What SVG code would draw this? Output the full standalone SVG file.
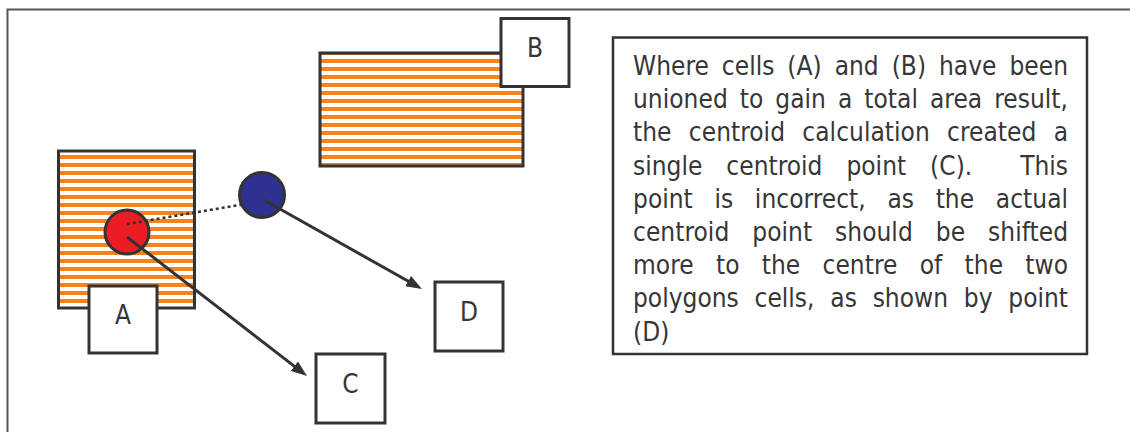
<svg xmlns="http://www.w3.org/2000/svg" width="1130" height="432" viewBox="0 0 1130 432">
  <style>
    .frame { fill: none; stroke: #555555; stroke-width: 2; }
    .cell { fill: url(#stripes); stroke: #333333; stroke-width: 3; }
    .box { fill: #ffffff; stroke: #333333; stroke-width: 3; }
    .note { fill: #ffffff; stroke: #333333; stroke-width: 2.5; }
    .label { font-family: "DejaVu Sans Condensed", "DejaVu Sans", sans-serif; font-stretch: condensed; font-size: 26px; fill: #363636; text-anchor: middle; }
    .body { font-family: "DejaVu Sans Condensed", "DejaVu Sans", sans-serif; font-stretch: condensed; font-size: 26px; fill: #363636; }
    .arrow { stroke: #333333; stroke-width: 3; fill: none; marker-end: url(#head); }
    .dots { stroke: #333333; stroke-width: 2.5; stroke-dasharray: 3 3; fill: none; }
    .pt { stroke: #333333; stroke-width: 3; }
  </style>
  <defs>
    <!-- horizontal orange hatch for polygon cells -->
    <pattern id="stripes" patternUnits="userSpaceOnUse" x="0" y="3" width="8" height="8">
      <rect x="0" y="0" width="8" height="8" fill="#ffffff"/>
      <rect x="0" y="0" width="8" height="4" fill="#F5831F"/>
    </pattern>
    <marker id="head" viewBox="0 0 16 12" refX="10" refY="6" markerWidth="16" markerHeight="12" markerUnits="userSpaceOnUse" orient="auto">
      <path d="M0,0 L16,6 L0,12 Z" fill="#333333"/>
    </marker>
  </defs>

  <!-- outer frame (top and left edges) -->
  <path class="frame" d="M7.5,432 L7.5,9.5 L1130,9.5"/>

  <g id="cell-a">
    <rect class="cell" x="58.5" y="151" width="136" height="157"/>
  </g>
  <g id="cell-b">
    <rect class="cell" x="320" y="53" width="203" height="113"/>
  </g>

  <g id="point-c">
    <circle class="pt" cx="127" cy="232" r="22" fill="#ED1C24"/>
  </g>

  <g id="connectors">
    <line class="dots" x1="127" y1="224" x2="245" y2="204"/>
    <line class="arrow" x1="127" y1="237" x2="302.25" y2="372.33"/>
  </g>

  <g id="point-d">
    <circle class="pt" cx="262" cy="195" r="22.5" fill="#2E3192"/>
  </g>

  <g id="connectors-d">
    <line class="arrow" x1="264" y1="200" x2="416.77" y2="286.05"/>
  </g>

  <g id="label-a">
    <rect class="box" x="89" y="286" width="68" height="67"/>
    <text class="label" x="123" y="324">A</text>
  </g>
  <g id="label-b">
    <rect class="box" x="501" y="18.5" width="68" height="68"/>
    <text class="label" x="535" y="56.5">B</text>
  </g>
  <g id="label-c">
    <rect class="box" x="316" y="354" width="69" height="69"/>
    <text class="label" x="350.5" y="393">C</text>
  </g>
  <g id="label-d">
    <rect class="box" x="435" y="282" width="68" height="69"/>
    <text class="label" x="469" y="320.5">D</text>
  </g>

  <g id="note">
    <rect class="note" x="613" y="37.5" width="474" height="316.5"/>
    <!-- justified paragraph: each line stretched to the column width -->
    <text class="body" x="633" y="75" word-spacing="5.5" textLength="435" lengthAdjust="spacing">Where cells (A) and (B) have been</text>
    <text class="body" x="633" y="108.2" word-spacing="4.5" textLength="435" lengthAdjust="spacing">unioned to gain a total area result,</text>
    <text class="body" x="633" y="141.4" word-spacing="9.8" textLength="435" lengthAdjust="spacing">the centroid calculation created a</text>
    <text class="body" x="633" y="174.6" word-spacing="16.5" textLength="435" lengthAdjust="spacing">single centroid point (C).&#160; This</text>
    <text class="body" x="633" y="207.8" word-spacing="14.2" textLength="435" lengthAdjust="spacing">point is incorrect, as the actual</text>
    <text class="body" x="633" y="241" word-spacing="15.5" textLength="435" lengthAdjust="spacing">centroid point should be shifted</text>
    <text class="body" x="633" y="274.2" word-spacing="14.7" textLength="435" lengthAdjust="spacing">more to the centre of the two</text>
    <text class="body" x="633" y="307.4" word-spacing="8.4" textLength="435" lengthAdjust="spacing">polygons cells, as shown by point</text>
    <text class="body" x="633" y="340.6">(D)</text>
  </g>
</svg>
